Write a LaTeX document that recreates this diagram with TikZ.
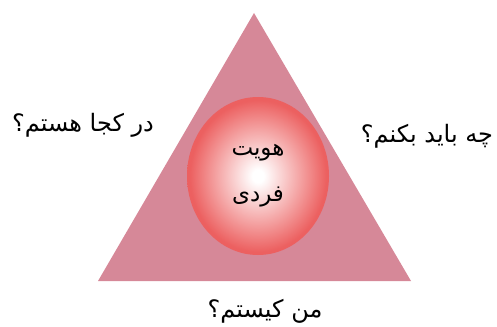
\documentclass[tikz,border=0pt]{standalone}
\usepackage{fontspec}
\newfontfamily\arabicfont[Script=Arabic]{DejaVu Sans}
\TeXXeTstate=1
\usetikzlibrary{shapes.geometric}

\definecolor{trianglepink}{RGB}{214,136,152}
\definecolor{spherered}{RGB}{236,96,96}
\pgfdeclareradialshading{sphereglow}{\pgfpointorigin}{color(0bp)=(white); color(2bp)=(white); color(13bp)=(spherered!50); color(24bp)=(spherered); color(50bp)=(spherered)}

\begin{document}
\begin{tikzpicture}[
        x=1pt, y=-1pt,
        question/.style={font=\arabicfont\fontsize{24}{28}\selectfont, inner sep=0pt},
        core/.style={ellipse, shading=sphereglow, minimum width=142pt, minimum height=158pt, inner sep=0pt, align=center, font=\arabicfont\fontsize{23}{46}\selectfont}
    ]
        \useasboundingbox (0,0) rectangle (497,326);

        % Triangle
        \coordinate (apex) at (254,13);
        \coordinate (baseL) at (98,281);
        \coordinate (baseR) at (411,281);
        \fill[trianglepink] (apex) -- (baseL) -- (baseR) -- cycle;

        % Nodes
        \node[core] (identity) at (258,176) {\beginR هویت\endR \\ \beginR فردی\endR};

        \node[question] (where) at (83,125) {\beginR در کجا هستم؟\endR};
        \node[question] (todo) at (427,136) {\beginR چه باید بکنم؟\endR};
        \node[question] (who) at (265,311) {\beginR من کیستم؟\endR};

    \end{tikzpicture}
\end{document}
